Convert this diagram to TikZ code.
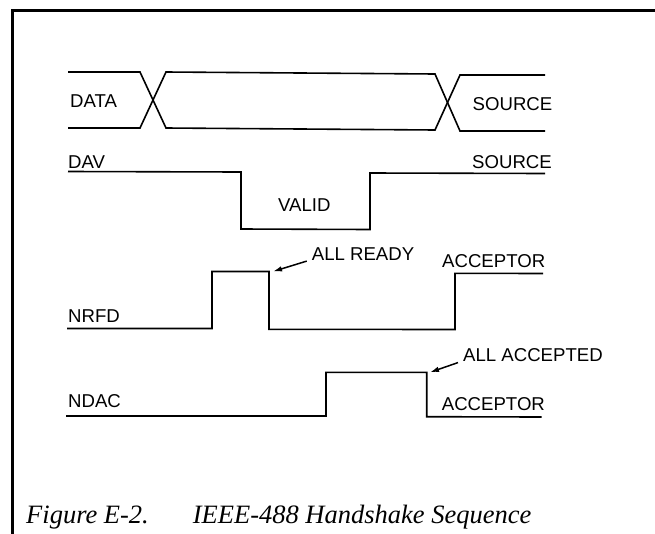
\documentclass[tikz,border=0pt]{standalone}
\usepackage{fontspec}
\setmainfont{Liberation Sans}
\newfontfamily\capfont{Liberation Serif}
\usetikzlibrary{arrows.meta}
\begin{document}
\begin{tikzpicture}[x=1pt,y=-1pt,
  sig/.style={line width=1.6pt,line join=miter},
  lbl/.style={anchor=west,inner sep=0pt,font=\fontsize{18.6}{18.6}\selectfont},
  frame/.style={line width=3pt},
  pointer/.style={line width=1.5pt,-{Latex[length=9pt,width=5.5pt]}}]
\useasboundingbox (0,0) rectangle (655,533);
\fill[white] (0,0) rectangle (655,533);
% frame
\draw[frame] (12.5,534) -- (12.5,10) -- (656,10);
% DATA
\draw[sig] (68,72) -- (140,72) -- (166,128) -- (435,130) -- (460,75) -- (545,75);
\draw[sig] (68,128) -- (140,128) -- (166,72) -- (435,74) -- (460,131) -- (545,131);
% DAV
\draw[sig] (68,171.5) -- (241,172) -- (241,229) -- (370,229.5) -- (370,173) -- (545,173.5);
% NRFD
\coordinate (rdyedge) at (273,271.5);
\draw[sig] (67,328.5) -- (212,328.5) -- (212,271.5) -- (269,271.5) -- (269,329.3) -- (455,329.5) -- (455,273.3) -- (543,273.5);
% NDAC
\coordinate (accedge) at (430,372.3);
\draw[sig] (66,416) -- (326,416) -- (326,372.3) -- (426.7,372.3) -- (426.7,416.7) -- (541.7,417);
% labels
\node[lbl] (data) at (70,100.7) {DATA};
\node[lbl] (src1) at (472.5,104) {SOURCE};
\node[lbl] (dav) at (68,162) {DAV};
\node[lbl] (src2) at (472,162.5) {SOURCE};
\node[lbl] (valid) at (278,205) {VALID};
\node[lbl] (allrdy) at (311.7,254) {ALL READY};
\node[lbl] (acc1) at (442,261.3) {ACCEPTOR};
\node[lbl] (nrfd) at (68,315.8) {NRFD};
\node[lbl] (allacc) at (463,355.3) {ALL ACCEPTED};
\node[lbl] (ndac) at (68,401) {NDAC};
\node[lbl] (acc2) at (441.7,404) {ACCEPTOR};
% pointers
\draw[pointer] ([xshift=-5pt,yshift=-0.5pt]allrdy.south west) -- (rdyedge);
\draw[pointer] ([xshift=-5pt,yshift=-0.5pt]allacc.south west) -- (accedge);
% caption
\node[anchor=base west,inner sep=0pt,font=\capfont\itshape\fontsize{26.5}{26.5}\selectfont] (cap) at (26,523)
  {Figure E-2.\hspace{44pt}IEEE-488 Handshake Sequence};
\end{tikzpicture}
\end{document}
